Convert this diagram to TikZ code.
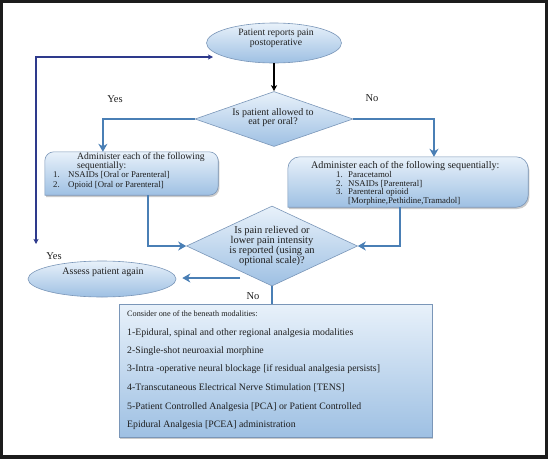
\documentclass[tikz,border=0pt]{standalone}
\usepackage{fontspec}
\setmainfont{Liberation Serif}
\usetikzlibrary{shapes.geometric,arrows.meta,shadows,calc}

\definecolor{flowc}{HTML}{4A7FB5}
\definecolor{navyc}{HTML}{2E3A8C}
\definecolor{edgec}{HTML}{7A96B8}
\definecolor{shtop}{HTML}{E8F1FA}
\definecolor{shbot}{HTML}{9EC0E3}
\definecolor{inkc}{HTML}{1E1E1E}
\definecolor{framec}{HTML}{1C1C1C}

\begin{document}
\begin{tikzpicture}[x=1pt,y=-1pt,
  shapefill/.style={top color=shtop,bottom color=shbot,draw=edgec,line width=0.6pt},
  boxshadow/.style={drop shadow={shadow xshift=1.2pt,shadow yshift=-1.8pt,opacity=0.35,fill=black!60}},
  ell/.style={ellipse,shapefill,inner sep=0pt},
  dia/.style={diamond,shapefill,inner sep=0pt},
  boxnode/.style={rectangle,inner sep=0pt},
  txt/.style={text=inkc,inner sep=0pt,font=\fontsize{9.7}{10}\selectfont},
  lt/.style={text=inkc,inner sep=0pt,anchor=base west,font=\fontsize{8.8}{9}\selectfont},
  bt/.style={text=inkc,inner sep=0pt,anchor=base west,font=\fontsize{9.8}{11}\selectfont},
  lab/.style={text=inkc,inner sep=0pt,font=\fontsize{10.5}{11}\selectfont},
  flow/.style={draw=flowc,line width=2.6pt,-{Stealth[length=8pt,width=9pt,inset=2.5pt]}},
  flowline/.style={draw=flowc,line width=2.6pt},
  blackarrow/.style={draw=black,line width=1.1pt,-{Stealth[length=6pt,width=6pt,inset=1.5pt]}},
  navyarrow/.style={draw=navyc,line width=1.1pt,{Stealth[length=5pt,width=5pt,inset=1.2pt]}-{Stealth[length=5pt,width=5pt,inset=1.2pt]}}
]
\useasboundingbox (0,0) rectangle (548,458);
\draw[line width=5.5pt,draw=framec] (0,0) rectangle (548,458);

% top ellipse
\node[ell,minimum width=135pt,minimum height=40pt] (e1) at (274,43) {};
\node[txt,align=center] (t1) at (276,38) {Patient reports pain\\postoperative};

% first decision
\node[dia,minimum width=158pt,minimum height=55pt] (d1) at (274,119) {};
\node[txt,align=center,font=\fontsize{10}{9.5}\selectfont] (t2) at (273,117.5) {Is patient allowed to\\eat per oral?};

% left box
\node[boxnode,minimum width=173pt,minimum height=43pt] (lbox) at (131.5,173.5) {};
\path[shapefill,boxshadow] (lbox.south west) [rounded corners=9pt] -- (lbox.north west) -- (lbox.north east) -- (lbox.south east) [sharp corners] -- cycle;
\node[lt,font=\fontsize{9.6}{9}\selectfont] (l0) at (77,159) {Administer each of the following};
\node[lt,font=\fontsize{9.6}{9}\selectfont] (l1) at (77,168) {sequentially:};
\node[lt] (l2n) at (53,177) {1.};
\node[lt] (l2) at (68,177) {NSAIDs [Oral or Parenteral]};
\node[lt] (l3n) at (53,187) {2.};
\node[lt] (l3) at (68,187) {Opioid [Oral or Parenteral]};

% right box
\node[boxnode,minimum width=240pt,minimum height=50pt] (rbox) at (408,182) {};
\path[shapefill,boxshadow] (rbox.south west) [rounded corners=12pt] -- (rbox.north west) -- (rbox.north east) -- (rbox.south east) [sharp corners] -- cycle;
\node[lt,font=\fontsize{10.1}{9}\selectfont] (r0) at (311,168) {Administer each of the following sequentially:};
\node[lt] (r1n) at (336,177) {1.};
\node[lt] (r1) at (348,177) {Paracetamol};
\node[lt] (r2n) at (336,186) {2.};
\node[lt] (r2) at (348,186) {NSAIDs [Parenteral]};
\node[lt] (r3n) at (336,194) {3.};
\node[lt] (r3) at (348,194) {Parenteral opioid};
\node[lt] (r4) at (348,203) {[Morphine,Pethidine,Tramadol]};

% second decision
\node[dia,minimum width=171pt,minimum height=80pt] (d2) at (272,246) {};
\node[txt,align=center,font=\fontsize{10.4}{10}\selectfont] (t3) at (272,245.5) {Is pain relieved or\\lower pain intensity\\is reported (using an\\optional scale)?};

% assess ellipse
\node[ell,minimum width=148pt,minimum height=36pt] (e2) at (102,279) {};
\node[txt,font=\fontsize{10}{10}\selectfont] (t4) at (103,272) {Assess patient again};

% bottom box
\node[boxnode,minimum width=313pt,minimum height=133pt,shapefill,boxshadow] (bbox) at (275.5,370.5) {};
\node[bt,font=\fontsize{8.2}{8}\selectfont] (b0) at (127,316) {Consider one of the beneath modalities:};
\node[bt] (b1) at (127,335) {1-Epidural, spinal and other regional analgesia modalities};
\node[bt] (b2) at (127,353) {2-Single-shot neuroaxial morphine};
\node[bt] (b3) at (127,371.5) {3-Intra -operative neural blockage [if residual analgesia persists]};
\node[bt] (b4) at (127,390) {4-Transcutaneous Electrical Nerve Stimulation [TENS]};
\node[bt] (b5) at (127,409) {5-Patient Controlled Analgesia [PCA] or Patient Controlled};
\node[bt] (b6) at (127,427) {Epidural Analgesia [PCEA] administration};

% labels
\node[lab] (y1) at (115,99) {Yes};
\node[lab] (n1) at (372,98) {No};
\node[lab] (y2) at (54,256) {Yes};
\node[lab] (n2) at (253,296) {No};

% connectors
\draw[blackarrow] (e1.south) -- (d1.north);
\draw[flow] (d1.west) -| ($(lbox.north west)!0.335!(lbox.north east)$);
\draw[flow] (d1.east) -| ($(rbox.north west)!0.608!(rbox.north east)$);
\draw[flow] ($(lbox.south west)!0.595!(lbox.south east)$) |- (d2.west);
\draw[flow] ($(rbox.south west)!0.467!(rbox.south east)$) |- (d2.east);
\coordinate (yA) at (240,278);
\draw[flow] (yA) -- ($(e2.east)+(6,-1)$);
\draw[flowline] (d2.south) -- (d2.south |- bbox.north);

% feedback loop
\coordinate (fbA) at (36,244);
\coordinate (fbB) at (213,57);
\draw[navyarrow] (fbA) |- (fbB);
\end{tikzpicture}
\end{document}
